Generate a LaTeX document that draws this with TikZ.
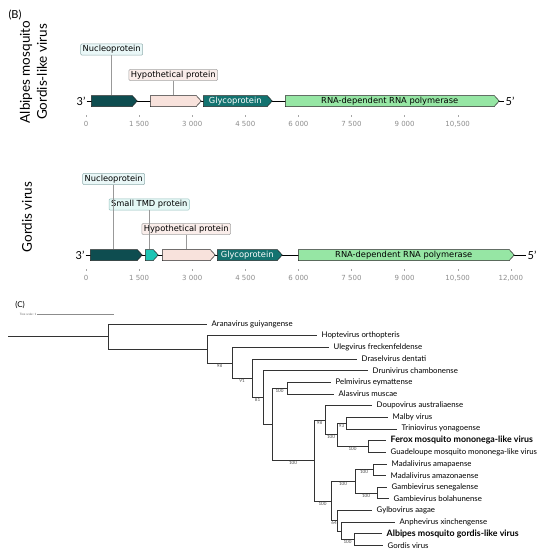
\documentclass[tikz,border=0pt]{standalone}
\usepackage{fontspec}
\setmainfont{Lato}
\newfontfamily\mplfont{DejaVu Sans}
\usetikzlibrary{shapes.symbols}
\definecolor{nucleo}{HTML}{0E4D50}
\definecolor{glyco}{HTML}{137370}
\definecolor{tmd}{HTML}{1CC4B4}
\definecolor{hypo}{HTML}{F8E2DC}
\definecolor{rdrp}{HTML}{96E6A4}
\definecolor{nucleotag}{HTML}{E9F7F7}
\definecolor{hypotag}{HTML}{FAEDEA}
\definecolor{tmdtag}{HTML}{E4F8F5}

\begin{document}
\begin{tikzpicture}[x=1pt, y=-1pt,
    gene/.style = {signal, signal to=east, signal from=nowhere, signal pointer angle=95,
      draw=black!85, line width=0.5pt, minimum height=11pt, inner sep=0pt, anchor=west,
      font=\mplfont\fontsize{8.3}{9}\selectfont},
    tag/.style = {draw, rounded corners=1.2pt, line width=0.5pt, inner xsep=2pt, inner ysep=1.6pt,
      font=\mplfont\fontsize{8.3}{9}\selectfont},
    tick/.style = {font=\mplfont\fontsize{7}{8}\selectfont, text=black!45},
    pin/.style = {draw=black!40, line width=0.5pt},
    prime/.style = {font=\fontsize{11}{12}\selectfont, inner sep=1pt},
    leaf/.style = {anchor=west, inner xsep=4.5pt, inner ysep=0.5pt, font=\fontsize{7.8}{9}\selectfont},
    boot/.style = {below, inner sep=0.6pt, font=\fontsize{4.6}{5}\selectfont, text=black!70},
    branch/.style = {draw=black!80, line width=0.6pt}
  ]
  \useasboundingbox (0,0) rectangle (550,554);

  \node[font=\fontsize{11}{12}\selectfont] (panelB) at (15,15) {(B)};
  \node[rotate=90, align=center, font=\fontsize{13.5}{17}\selectfont] (virus1) at (33.5,72) {Albipes mosquito\\Gordis-like virus};
  \node[rotate=90, font=\fontsize{13.5}{17}\selectfont] (virus2) at (27,217) {Gordis virus};

  % Albipes mosquito gordis-like virus
  \node[prime] (t1a) at (81,101) {3'};
  \node[prime] (t1b) at (510,101) {5'};
  \draw[line width=0.6pt] (t1a.east) -- (t1b.west);
  \node[gene, fill=nucleo, minimum width=46pt] (np1) at (91,101) {};
  \node[gene, fill=hypo, minimum width=51pt] (hyp1) at (150,101) {};
  \node[gene, fill=glyco, minimum width=69pt, text=white] (gly1) at (203,101) {Glycoprotein};
  \node[gene, fill=rdrp, minimum width=214pt] (rdrp1) at (285,101) {RNA-dependent RNA polymerase};
  \node[tag, fill=nucleotag, draw=nucleo!45] (np1tag) at (np1.center |- 0,49.5) {Nucleoprotein};
  \node[tag, fill=hypotag, draw=black!35] (hyp1tag) at (hyp1.center |- 0,75) {Hypothetical protein};
  \draw[pin] (np1tag.south) -- (np1tag.south |- np1.north);
  \draw[pin] (hyp1tag.south) -- (hyp1tag.south |- hyp1.north);
  \foreach \t [count=\k from 0] in {0,1 500,3 000,4 500,6 000,7 500,9 000,{10,500}}
    \draw[black!35, line width=0.4pt] ({86+53.1*\k},115) -- ++(0,2) node[tick, below=1pt] {\t};

  % Gordis virus
  \node[prime] (t2a) at (80,255) {3'};
  \node[prime] (t2b) at (532,255) {5'};
  \draw[line width=0.6pt] (t2a.east) -- (t2b.west);
  \node[gene, fill=nucleo, minimum width=52pt] (np2) at (90,255) {};
  \node[gene, fill=tmd, minimum width=13pt] (tmd2) at (145,255) {};
  \node[gene, fill=hypo, minimum width=53pt] (hyp2) at (162,255) {};
  \node[gene, fill=glyco, minimum width=65pt, text=white] (gly2) at (217,255) {Glycoprotein};
  \node[gene, fill=rdrp, minimum width=216pt] (rdrp2) at (298,255) {RNA-dependent RNA polymerase};
  \node[tag, fill=nucleotag, draw=nucleo!45] (np2tag) at (np2.center |- 0,179) {Nucleoprotein};
  \node[tag, fill=tmdtag, draw=glyco!45] (tmd2tag) at (tmd2.center |- 0,204.5) {Small TMD protein};
  \node[tag, fill=hypotag, draw=black!35] (hyp2tag) at (hyp2.center |- 0,229) {Hypothetical protein};
  \draw[pin] (np2tag.south) -- (np2tag.south |- np2.north);
  \draw[pin] (tmd2tag.south) -- (tmd2tag.south |- tmd2.north);
  \draw[pin] (hyp2tag.south) -- (hyp2tag.south |- hyp2.north);
  \foreach \t [count=\k from 0] in {0,1 500,3 000,4 500,6 000,7 500,9 000,{10,500},{12,000}}
    \draw[black!35, line width=0.4pt] ({86+53.1*\k},269) -- ++(0,2) node[tick, below=1pt] {\t};

  % tree
  \node[font=\fontsize{8}{9}\selectfont] (panelC) at (20,305) {(C)};
  \node[anchor=east, inner sep=0.5pt, font=\fontsize{3}{3}\selectfont, text=black!60] (tscale) at (37,314) {Tree scale: 1};
  \coordinate (sbar) at (114,314);
  \draw[black!45, line width=0.4pt] (tscale.east) -- (sbar);

  \foreach \nm/\lx [count=\i] in {Aranavirus guiyangense/207, Hoptevirus orthopteris/317,
      Ulegvirus freckenfeldense/329, Draselvirus dentati/357, Drunivirus chambonense/368,
      Pelmivirus eymattense/331, Alasvirus muscae/334, Doupovirus australiaense/372,
      Malby virus/388, Triniovirus yonagoense/397,
      {\bfseries\fontsize{8.8}{10}\selectfont Ferox mosquito mononega-like virus}/386,
      Guadeloupe mosquito mononega-like virus/386, Madalivirus amapaense/387,
      Madalivirus amazonaense/386, Gambievirus senegalense/387, Gambievirus bolahunense/389,
      Gylbovirus aagae/372, Anphevirus xinchengense/395,
      {\bfseries\fontsize{8.8}{10}\selectfont Albipes mosquito gordis-like virus}/382, Gordis virus/383}
    \node[leaf] (l\i) at (\lx,{324+11.65*(\i-1)}) {\nm};

  \coordinate (stem) at (8,336.6);
  \coordinate (root) at (108,336.6);
  \coordinate (nA) at (207,349.2);
  \coordinate (nB) at (232,362.8);
  \coordinate (nC) at (252,378.2);
  \coordinate (nD) at (263,397.5);
  \coordinate (nDp) at (272,424.3);
  \coordinate (nPA) at (287,388.1);
  \coordinate (nE) at (314,460.6);
  \coordinate (nF) at (325,420.1);
  \coordinate (nH) at (337,434.7);
  \coordinate (nI) at (346,423.0);
  \coordinate (nJ) at (368,446.3);
  \coordinate (nG) at (331,501.0);
  \coordinate (nK) at (355,481.3);
  \coordinate (nO) at (373,469.6);
  \coordinate (nP) at (377,492.9);
  \coordinate (nL) at (337,520.6);
  \coordinate (nM) at (341,530.8);
  \coordinate (nN) at (354,539.5);

  \draw[branch, line width=0.8pt] (stem) -- (root);
  \foreach \p/\c in {root/l1.west, root/nA, nA/l2.west, nB/l3.west, nC/l4.west, nD/l5.west,
      nD/nDp, nPA/l6.west, nPA/l7.west, nF/l8.west, nI/l9.west, nI/l10.west, nJ/l11.west,
      nJ/l12.west, nO/l13.west, nO/l14.west, nP/l15.west, nP/l16.west, nL/l17.west, nL/nM,
      nM/l18.west, nN/l19.west, nN/l20.west}
    \draw[branch] (\p) |- (\c);
  \foreach \p/\c/\b in {nA/nB/98, nB/nC/91, nC/nD/81, nDp/nPA/100, nDp/nE/100, nE/nF/98,
      nE/nG/100, nF/nH/100, nH/nI/93, nH/nJ/100, nG/nK/100, nG/nL/64, nK/nO/100,
      nK/nP/100, nM/nN/100}
    \draw[branch] (\p) |- (\c) node[boot, pos=0.75] {\b};
\end{tikzpicture}
\end{document}
